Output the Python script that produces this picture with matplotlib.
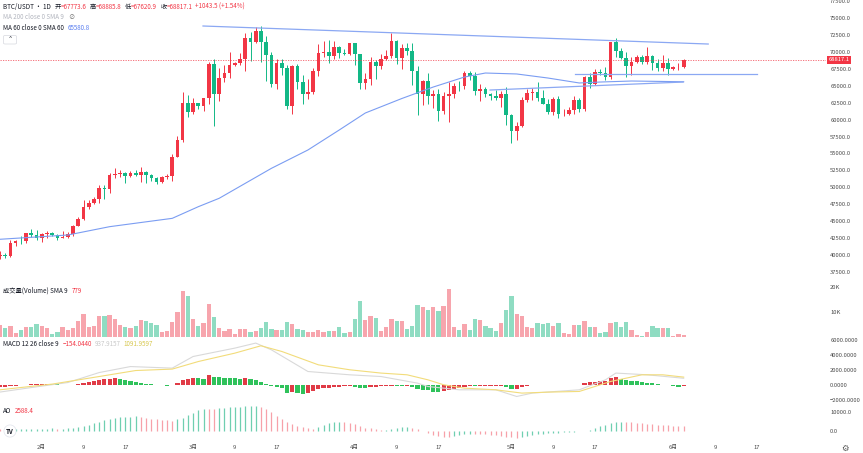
import numpy as np
import matplotlib.pyplot as plt
from matplotlib.patches import FancyBboxPatch
from matplotlib.transforms import blended_transform_factory

plt.rcParams['font.family'] = ['Noto Sans CJK SC', 'DejaVu Sans']

# daily candles BTC/USDT, 24 Jan -> 3 Jun (index 0 = 24 Jan)
opens = [39877, 40077, 39933, 41816, 42120, 42031, 43302, 42941, 42580, 43082,
         43200, 43011, 42582, 42708, 43098, 44349, 45288, 47132, 47751, 48299,
         49917, 49699, 51795, 51912, 52126, 51642, 52137, 51774, 52259, 51839,
         51304, 50731, 51571, 51733, 54476, 57037, 62432, 61130, 62387, 61987,
         63113, 68245, 63724, 66074, 66823, 68124, 68313, 68955, 72078, 71452,
         73072, 71388, 69499, 65300, 68393, 67609, 61937, 67840, 65501, 63797,
         64037, 67211, 69880, 69988, 69455, 70744, 69892, 69645, 71333, 69702,
         65446, 65980, 68508, 67837, 68896, 69362, 71631, 69139, 70587, 70060,
         67195, 63821, 65738, 63426, 63811, 61276, 63512, 63843, 64994, 64927,
         66837, 66407, 64276, 64481, 63755, 63419, 63113, 63841, 60636, 58254,
         59123, 62889, 63891, 64031, 63161, 62334, 61187, 63049, 60792, 60793,
         61448, 62901, 61552, 66267, 65232, 67051, 66940, 66278, 71446, 70136,
         69122, 67929, 68526, 69265, 68518, 69394, 68297, 67578, 68364, 67491,
         67706, 67773.6]
highs = [40555, 40348, 42225, 42200, 42842, 43305, 43882, 43745, 43285, 43488,
         43381, 43119, 43494, 43399, 44396, 45614, 48200, 48170, 48592, 50334,
         50368, 52043, 52816, 52572, 52198, 52363, 52488, 52985, 52371, 52020,
         51548, 51684, 51950, 54938, 57588, 64000, 63676, 63114, 62433, 63231,
         68499, 69000, 67637, 67985, 69990, 68541, 69887, 72800, 72890, 73650,
         73777, 72357, 70043, 68904, 68957, 68124, 68100, 68240, 66650, 65977,
         67622, 71150, 71561, 71769, 71552, 70913, 70355, 71366, 71342, 69708,
         66914, 69291, 68725, 69629, 70327, 72797, 71758, 71172, 71256, 71228,
         67931, 65840, 66868, 64356, 64487, 64125, 65500, 65442, 65723, 67233,
         67199, 67075, 65294, 64792, 63923, 64359, 64174, 64734, 60780, 59602,
         63320, 64494, 64646, 65494, 64390, 62986, 63404, 63469, 61490, 61850,
         63450, 63118, 66444, 66800, 67459, 67400, 67700, 71515, 71979, 70623,
         70041, 69250, 69562, 69562, 70687, 69560, 68900, 69500, 69042, 67857,
         68409, 68885.8]
lows = [39485, 39500, 39760, 41394, 41620, 41804, 42683, 42276, 41884, 42546,
        42880, 42222, 42534, 42574, 42788, 44331, 45242, 46800, 47557, 47710,
        48300, 49225, 51314, 51566, 50625, 51530, 51677, 50760, 50625, 50935,
        50500, 50585, 51280, 50901, 54450, 56690, 60364, 60777, 61561, 61320,
        62300, 59005, 62787, 65600, 66082, 67861, 68094, 67194, 68620, 71333,
        68555, 65630, 64780, 64533, 66566, 61555, 60775, 64529, 62260, 63000,
        63790, 66385, 69281, 68359, 68903, 69076, 69562, 69562, 68110, 64581,
        64493, 65113, 66011, 67491, 68824, 69041, 68210, 67518, 69571, 65086,
        60660, 62133, 62274, 61716, 59768, 60786, 59600, 63173, 64277, 64548,
        65865, 63589, 62794, 63298, 62824, 62824, 61795, 59191, 56552, 56937,
        58848, 62599, 62822, 62746, 62250, 60877, 60648, 60187, 60492, 60631,
        60749, 61143, 61330, 64600, 65119, 66600, 65857, 66060, 69162, 68900,
        66356, 66600, 68400, 68128, 68250, 67300, 67125, 67118, 66600, 67385,
        67257, 67620.9]
closes = [40077, 39933, 41816, 42120, 42031, 43302, 42941, 42580, 43082, 43200,
          43011, 42582, 42708, 43098, 44349, 45288, 47132, 47751, 48299, 49917,
          49699, 51795, 51912, 52126, 51642, 52137, 51774, 52259, 51839, 51304,
          50731, 51571, 51733, 54476, 57037, 62432, 61130, 62387, 61987, 63113,
          68245, 63724, 66074, 66823, 68124, 68313, 68955, 72078, 71452, 73072,
          71388, 69499, 65300, 68393, 67609, 61937, 67840, 65501, 63797, 64037,
          67211, 69880, 69988, 69455, 70744, 69892, 69645, 71333, 69702, 65446,
          65980, 68508, 67837, 68896, 69362, 71631, 69139, 70587, 70060, 67195,
          63821, 65738, 63426, 63811, 61276, 63512, 63843, 64994, 64927, 66837,
          66407, 64276, 64481, 63755, 63419, 63113, 63841, 60636, 58254, 59123,
          62889, 63891, 64031, 63161, 62334, 61187, 63049, 60792, 60793, 61448,
          62901, 61552, 66267, 65232, 67051, 66940, 66278, 71446, 70136, 69122,
          67929, 68526, 69265, 68518, 69394, 68297, 67578, 68364, 67491, 67706,
          67773.6, 68817.1]

# volume in thousands
volume = [4.8, 3.3, 4.4, 1.3, 2.7, 3.7, 4.0, 5.1, 4.4, 3.5,
          1.1, 2.0, 3.7, 2.8, 3.5, 6.1, 8.9, 3.7, 4.1, 8.3,
          8.3, 8.7, 7.2, 4.7, 3.7, 3.5, 4.1, 6.7, 6.3, 5.3,
          4.8, 1.7, 2.1, 6.0, 10.0, 18.4, 16.4, 7.2, 4.1, 5.3,
          13.2, 7.7, 3.5, 2.1, 3.1, 1.1, 3.1, 3.1, 2.0, 2.1,
          3.5, 5.7, 3.2, 2.8, 2.7, 5.7, 5.1, 2.9, 2.8, 1.7,
          1.7, 2.7, 1.7, 2.4, 2.4, 4.0, 1.3, 1.7, 7.1, 14.4,
          6.8, 8.4, 7.3, 2.4, 4.0, 7.1, 6.4, 6.4, 3.1, 4.4,
          12.7, 11.7, 10.8, 12.0, 10.4, 12.4, 19.1, 4.0, 2.8, 5.1,
          2.7, 7.1, 6.8, 4.4, 3.5, 2.1, 5.5, 10.8, 16.4, 8.9,
          8.1, 3.9, 3.5, 5.3, 5.1, 5.5, 4.1, 5.5, 1.3, 1.2,
          4.7, 4.7, 6.4, 4.0, 3.7, 1.3, 1.7, 5.5, 5.7, 3.9,
          5.9, 2.8, 0.7, 0.4, 2.0, 4.1, 3.3, 3.5, 3.5, 0.4,
          1.1, 0.78]

# MACD histogram per day
macd_hist = [-250, -180, -100, -30, 40, 90, 140, 170, 190, 200,
             170, 130, 100, 70, 60, 180, 350, 500, 620, 720,
             820, 880, 930, 860, 740, 600, 460, 340, 230, 130,
             60, 10, -30, -10, 300, 700, 900, 1000, 950, 900,
             1320, 1100, 1050, 1020, 1000, 950, 900, 1000, 850, 700,
             500, 200, -100, -250, -420, -1050, -900, -1000, -1100, -1050,
             -800, -550, -400, -300, -220, -180, -150, -120, -200, -330,
             -350, -250, -200, -150, -110, -60, -120, -150, -140, -250,
             -480, -600, -680, -900, -950, -800, -650, -450, -300, -180,
             -120, -150, -130, -110, -90, -70, -60, -250, -500, -450,
             -200, -80, 40, 60, 50, 20, 40, 0, -20, -10,
             50, 40, 300, 380, 480, 560, 620, 1000, 1050, 900,
             720, 600, 520, 420, 360, 260, 150, 100, -20, -100,
             -190, -154]
# MACD / signal lines read at a few days
macd_days = [0, 6, 13, 19, 25, 33, 37, 45, 49, 52, 59, 67, 73, 80, 82,
             88, 95, 99, 102, 111, 116, 118, 124, 131]
macd_line = [-900, -300, 370, 1700, 2500, 2290, 3840, 4960, 5630, 4730, 1840,
             1400, 1170, 290, -160, -600, -600, -1490, -1040, -600, 730, 1630,
             1400, 938]
sig_days = [0, 10, 19, 26, 33, 38, 45, 50, 54, 61, 67, 73, 78, 82, 85,
            89, 95, 100, 105, 111, 117, 123, 127, 131]
sig_line = [-600, 160, 1170, 1970, 2160, 3170, 4290, 5270, 4510, 2730, 2070,
            1630, 1400, 730, 70, -380, -600, -1040, -910, -820, 510, 1400,
            1400, 1092]

# awesome oscillator per day
ao = [800, 850, 900, 950, 1000, 1050, 1100, 1150, 1200, 1250,
      1300, 1200, 1250, 1400, 1700, 1900, 2400, 3000, 3900, 4800,
      5500, 6400, 6900, 7300, 7400, 7500, 7550, 7300, 6700, 6400,
      6000, 5700, 5500, 5400, 6000, 6900, 8100, 9100, 10700, 11600,
      11500, 11300, 11800, 12100, 12300, 12500, 12600, 12700, 12800, 12900,
      12400, 11600, 9900, 7700, 6300, 4900, 3600, 2700, 2200, 1300,
      900, 2100, 3000, 4000, 4500, 4800, 4700, 4000, 3500, 2700,
      1800, 1300, 900, 500, 700, 1000, 1600, 2000, 2200, 1800,
      1000, 0, -900, -2000, -2600, -3000, -3200, -2800, -2300, -1800,
      -1300, -1400, -1600, -1800, -2000, -2300, -2700, -3000, -3300, -3500,
      -3000, -2500, -2000, -1600, -1300, -1100, -900, -800, -700, -600,
      -400, -200, 200, 500, 1500, 2500, 3300, 4000, 4500, 4800,
      4700, 4500, 4200, 3900, 3600, 3400, 3200, 3100, 2900, 2800,
      2700, 2588.4]

# MA 60
ma_days = [0, 13, 21, 33, 38, 42, 52, 59, 65, 70, 77, 83, 89, 93, 99,
           105, 111, 115, 121, 131]
ma_vals = [42330, 42960, 44190, 45420, 47140, 48380, 52800, 55510, 58460,
           60970, 63110, 64800, 66280, 66870, 66730, 66130, 65400, 65540,
           65690, 65580]

# hand drawn lines (day, price)
top_line = ([38.9, 135.7], [73810, 71150])
rise_line = ([93.9, 130.9], [64360, 65540])
flat_line = ([110.2, 145.0], [66725, 66725])
last_price = 68817.1

xtick_days = [8, 16, 24, 37, 45, 53, 68, 76, 84, 98, 106, 114, 129, 137, 145]
xtick_labels = ['2月', '9', '17', '3月', '9', '17', '4月', '9', '17',
                '5月', '9', '17', '6月', '9', '17']

RED = '#f23645'
GREEN = '#12b886'
DARK = '#131722'
TICK = '#4a4a4a'

W, H = 863, 453
fig = plt.figure(figsize=(W / 100, H / 100), dpi=100)
fig.patch.set_facecolor('white')
PLOT_W = 826


def pane(top, bottom):
    a = fig.add_axes([0, 1 - bottom / H, PLOT_W / W, (bottom - top) / H])
    a.set_facecolor('none')
    for s in a.spines.values():
        s.set_visible(False)
    a.set_xlim(0, PLOT_W / 5.219)
    a.yaxis.tick_right()
    a.tick_params(axis='y', length=0, pad=3, labelsize=4.2, labelcolor=TICK)
    a.tick_params(axis='x', length=0, labelbottom=False)
    return a


ax = pane(0, 282)
axv = pane(282, 338)
axm = pane(338, 403)
axa = pane(403, 440)

days = np.arange(len(closes))
o, h, l, c = map(np.array, (opens, highs, lows, closes))
up = c >= o

# candles
ccol = np.where(up, RED, GREEN)
ax.vlines(days, l, h, colors=ccol, lw=0.7)
ax.bar(days, np.maximum(np.abs(c - o), 90), bottom=np.minimum(o, c),
       width=0.7, color=ccol, lw=0)
ax.plot(ma_days, ma_vals, color='#7b9df2', lw=0.8)
for xs, ys in (top_line, rise_line, flat_line):
    ax.plot(xs, ys, color='#8ba8f3', lw=0.9)
ax.axhline(last_price, color=RED, lw=0.6, ls=(0, (1.5, 1.5)), alpha=0.8)
ax.set_ylim(36024, 77648)
pticks = np.arange(37500, 77501, 2500)
ax.set_yticks(pticks, [f'{v:.1f}' for v in pticks])
tr = blended_transform_factory(ax.transAxes, ax.transData)
ax.text(1.003, last_price, f'{last_price:.1f}', transform=tr, color='white',
        fontsize=4.2, va='center', ha='left',
        bbox=dict(boxstyle='square,pad=0.3', fc=RED, ec='none'))

# volume
vcol = np.where(up, '#f7a5ad', '#8fdcc2')
axv.bar(days, volume, width=0.82, color=vcol, lw=0)
axv.set_ylim(-0.52, 21.9)
axv.set_yticks([10, 20], ['10K', '20K'])

# MACD
hist = np.array(macd_hist, dtype=float)
rising = hist >= np.concatenate([[hist[0]], hist[:-1]])
axm.bar(days, hist, width=0.8, color=np.where(rising, '#e03b46', '#2fc25b'), lw=0)
axm.plot(macd_days, macd_line, color='#d9d9d9', lw=0.8)
axm.plot(sig_days, sig_line, color='#f2dc7a', lw=0.8)
axm.set_ylim(-2360, 6307)
mt = [-2000, 0, 2000, 4000, 6000]
axm.set_yticks(mt, [f'{v:.4f}'.replace('-', '−') for v in mt])

# AO
aov = np.array(ao, dtype=float)
ao_up = aov > np.concatenate([[aov[0]], aov[:-1]])
axa.vlines(days, 0, aov, colors=np.where(ao_up, '#6fcfb0', '#f7a1a9'), lw=0.9)
axa.set_ylim(-4663, 14508)
axa.set_yticks([0, 10000], ['0.0', '10000.0'])
axa.set_xticks(xtick_days, xtick_labels)
axa.tick_params(axis='x', labelbottom=True, labelsize=4.2, labelcolor=TICK, pad=3.5)

renderer = fig.canvas.get_renderer()


def chain(y, parts, x=3, fs=4.5):
    # write coloured pieces one after another on one row (pixel coords)
    for s, col, gap in parts:
        t = fig.text(x / W, 1 - y / H, s, color=col, fontsize=fs,
                     va='center', ha='left')
        x = t.get_window_extent(renderer).x1 + gap


chain(7, [('BTC/USDT · 1D', DARK, 4), ('开', DARK, 0), ('=67773.6', RED, 3),
          ('高', DARK, 0), ('=68885.8', RED, 3), ('低', DARK, 0),
          ('=67620.9', RED, 3), ('收', DARK, 0), ('=68817.1', RED, 3),
          ('+1043.5 (+1.54%)', RED, 0)])
chain(17, [('MA 200 close 0 SMA 9', '#b2b5be', 4), ('⊘', '#777777', 0)])
chain(28, [('MA 60 close 0 SMA 60', DARK, 4), ('65580.8', '#5b7ff0', 0)])
fig.patches.append(FancyBboxPatch((3.5 / W, 1 - 44 / H), 13 / W, 8.5 / H,
                                  boxstyle='round,pad=0,rounding_size=0.002',
                                  transform=fig.transFigure, fc='white',
                                  ec='#d6d8de', lw=0.5))
fig.text(10 / W, 1 - 40 / H, '⌃', color=DARK, fontsize=4.5, ha='center',
         va='center', family='DejaVu Sans')

chain(291, [('成交量(Volume) SMA 9', DARK, 4), ('779', RED, 0)])
chain(344, [('MACD 12 26 close 9', DARK, 4), ('−154.0440', RED, 3),
            ('937.9157', '#c8c8c8', 3), ('1091.9597', '#d8c850', 0)])
chain(411, [('AO', DARK, 3), ('2588.4', RED, 0)])

fig.text(10 / W, 1 - 431 / H, 'TV', color=DARK, fontsize=4.5, weight='bold',
         ha='center', va='center',
         bbox=dict(boxstyle='circle,pad=0.35', fc='white', ec='#e0e3eb', lw=0.5))
fig.text(845 / W, 1 - 448 / H, '⚙', color='#555555', fontsize=6,
         ha='center', va='center', family='DejaVu Sans')

fig.savefig('out.png', dpi=100)
